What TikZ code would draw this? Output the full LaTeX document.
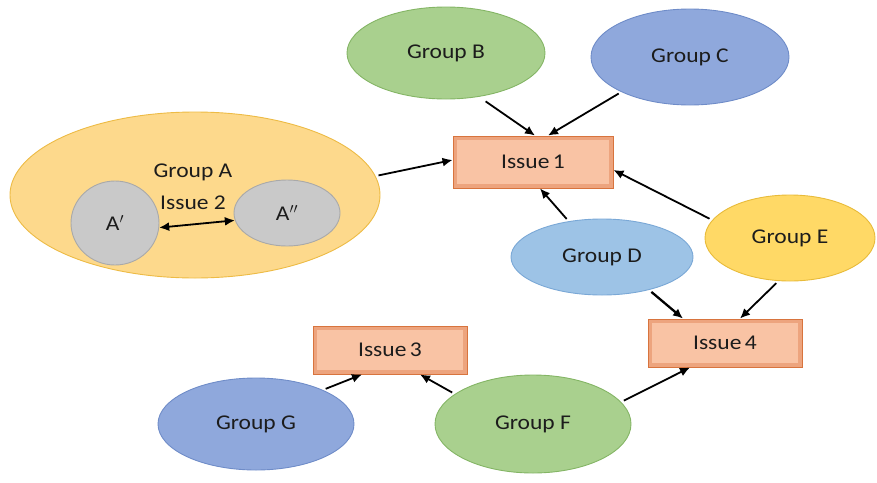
\documentclass[tikz,border=0pt]{standalone}
\usepackage{fontspec}
\setmainfont[FakeStretch=1.12]{Carlito}
\usetikzlibrary{arrows.meta,shapes.geometric}

\definecolor{grpyellow}{HTML}{FDD98C}
\definecolor{grpyellowline}{HTML}{EDBB45}
\definecolor{grpgreen}{HTML}{A9D08E}
\definecolor{grpgreenline}{HTML}{84B565}
\definecolor{grpblue}{HTML}{8FA8DC}
\definecolor{grpblueline}{HTML}{6F8CC8}
\definecolor{grplight}{HTML}{9DC3E6}
\definecolor{grplightline}{HTML}{7AA8D6}
\definecolor{grpgold}{HTML}{FFD966}
\definecolor{grpgoldline}{HTML}{E8BB3A}
\definecolor{subgray}{HTML}{C9C9C9}
\definecolor{subgrayline}{HTML}{A9A9A9}
\definecolor{issuefill}{HTML}{F9C3A4}
\definecolor{issuedark}{HTML}{EDA47E}
\definecolor{issueline}{HTML}{D8743E}
\definecolor{txt}{HTML}{1C1C1C}

\begin{document}
\begin{tikzpicture}[
  x=1pt,y=-1pt,
  >={Latex[length=10pt,width=9pt]},
  font=\fontsize{21}{23}\selectfont,
  text=txt,
  group/.style={ellipse, inner sep=0pt, line width=0.9pt},
  issue/.style={rectangle, inner sep=0pt, minimum width=160pt, minimum height=52pt,
    fill=issuedark, draw=issueline, line width=0.9pt,
    path picture={\fill[issuefill] ([shift={(4pt,-4pt)}]path picture bounding box.north west)
      rectangle ([shift={(-4pt,4pt)}]path picture bounding box.south east);}},
  link/.style={->, draw=black, line width=1.8pt, shorten <=3pt},
  label/.style={inner sep=1pt}
]
\path[use as bounding box] (0,0) rectangle (877,482);

% Group A with its two sub groups
\node[group, fill=grpyellow, draw=grpyellowline, minimum width=370pt, minimum height=166pt] (ga) at (195,195) {};
\node[label] (galabel) at (193,172) {Group A};
\node[label] (issuetwo) at (193,203) {Issue 2};
\node[group, fill=subgray, draw=subgrayline, minimum width=88pt, minimum height=84pt] (aone) at (115,223) {A$'$};
\node[group, fill=subgray, draw=subgrayline, minimum width=106pt, minimum height=66pt] (atwo) at (287,213) {A$''$};

% Other groups
\node[group, fill=grpgreen, draw=grpgreenline, minimum width=198pt, minimum height=92pt] (gb) at (446,53) {Group B};
\node[group, fill=grpblue, draw=grpblueline, minimum width=198pt, minimum height=96pt] (gc) at (690,57) {Group C};
\node[group, fill=grplight, draw=grplightline, minimum width=182pt, minimum height=76pt] (gd) at (602,257) {Group D};
\node[group, fill=grpgold, draw=grpgoldline, minimum width=170pt, minimum height=86pt] (ge) at (790,238) {Group E};
\node[group, fill=grpgreen, draw=grpgreenline, minimum width=196pt, minimum height=98pt] (gf) at (533,424) {Group F};
\node[group, fill=grpblue, draw=grpblueline, minimum width=196pt, minimum height=92pt] (gg) at (256,424) {Group G};

% Issues
\node[issue] (ione) at (533,162) {Issue\,1};
\node[issue, minimum width=154pt, minimum height=48pt] (ithree) at (390,350) {Issue\,3};
\node[issue, minimum width=154pt, minimum height=48pt] (ifour) at (725,343) {Issue\,4};

% Links
\draw[link, <->, shorten <=0pt] (aone.-6) -- (atwo.-172);
\draw[link] (ga.6) -- ([yshift=2pt]ione.west);
\draw[link, shorten <=8pt] (gb.-53) -- ([xshift=2pt]ione.north);
\draw[link] (gc.-153) -- ([xshift=15pt]ione.north);
\draw[link] (gd.133) -- ([xshift=7pt]ione.south);
\draw[link] (ge.167) -- ([yshift=-8pt]ione.east);
\draw[link, line width=2.3pt] (gd.-35) -- ([xshift=-42pt]ifour.north);
\draw[link] (ge.-105) -- ([xshift=15pt]ifour.north);
\draw[link] (gf.14) -- ([xshift=-35pt]ifour.south);
\draw[link] (gf.159) -- ([xshift=30pt]ithree.south);
\draw[link] (gg.27) -- ([xshift=-28pt]ithree.south);

\end{tikzpicture}
\end{document}
